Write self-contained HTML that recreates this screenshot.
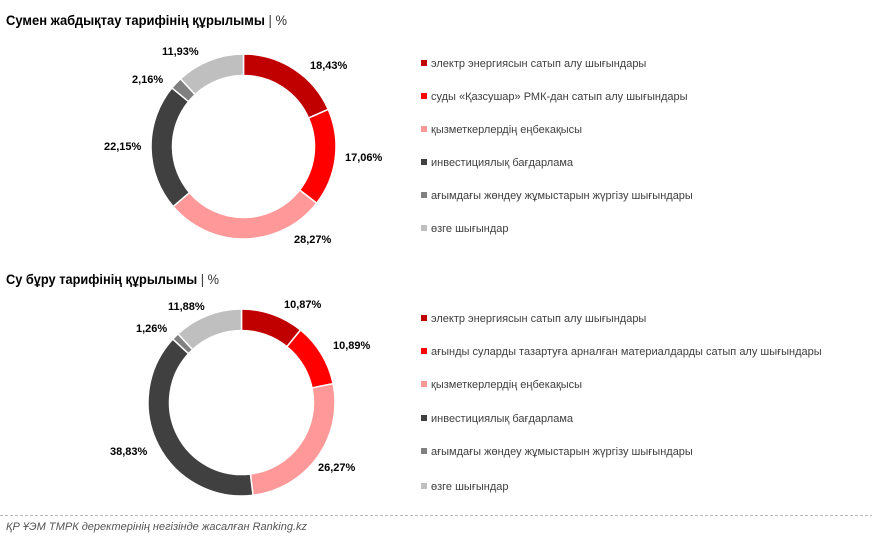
<!DOCTYPE html>
<html><head><meta charset="utf-8"><style>
body{margin:0;width:872px;height:541px;background:#fff;overflow:hidden;font-family:"Liberation Sans","DejaVu Sans",sans-serif;}
</style></head><body>
<svg width="872" height="541" xmlns="http://www.w3.org/2000/svg" style="position:absolute;left:0;top:0">
<g id="d1"></g><g id="d2"></g>
<g font-family="Liberation Sans, DejaVu Sans, sans-serif">
<text x="6" y="25" font-size="14" font-weight="bold" fill="#000" textLength="281" lengthAdjust="spacingAndGlyphs">Сумен жабдықтау тарифінің құрылымы <tspan font-weight="normal" fill="#333">| %</tspan></text>
<text x="6" y="284" font-size="14" font-weight="bold" fill="#000" textLength="213" lengthAdjust="spacingAndGlyphs">Су бұру тарифінің құрылымы <tspan font-weight="normal" fill="#333">| %</tspan></text>
<g font-size="11" font-weight="bold" fill="#000">
<text x="310" y="69">18,43%</text>
<text x="345" y="161">17,06%</text>
<text x="294" y="243">28,27%</text>
<text x="104" y="150">22,15%</text>
<text x="132" y="83">2,16%</text>
<text x="162" y="55">11,93%</text>
<text x="284" y="308">10,87%</text>
<text x="333" y="349">10,89%</text>
<text x="318" y="471">26,27%</text>
<text x="110" y="455">38,83%</text>
<text x="136" y="332">1,26%</text>
<text x="168" y="310">11,88%</text>
</g>
<g font-size="11" fill="#404040">
<rect x="421" y="60" width="6" height="6" fill="#C00000"/><text x="431" y="67">электр энергиясын сатып алу шығындары</text>
<rect x="421" y="93" width="6" height="6" fill="#FF0000"/><text x="431" y="100">суды «Қазсушар» РМК-дан сатып алу шығындары</text>
<rect x="421" y="126" width="6" height="6" fill="#FF9999"/><text x="431" y="133">қызметкерлердің еңбекақысы</text>
<rect x="421" y="159" width="6" height="6" fill="#404040"/><text x="431" y="166">инвестициялық бағдарлама</text>
<rect x="421" y="192" width="6" height="6" fill="#808080"/><text x="431" y="199">ағымдағы жөндеу жұмыстарын жүргізу шығындары</text>
<rect x="421" y="225" width="6" height="6" fill="#BFBFBF"/><text x="431" y="232">өзге шығындар</text>
<rect x="421" y="315" width="6" height="6" fill="#C00000"/><text x="431" y="322">электр энергиясын сатып алу шығындары</text>
<rect x="421" y="348" width="6" height="6" fill="#FF0000"/><text x="431" y="355">ағынды суларды тазартуға арналған материалдарды сатып алу шығындары</text>
<rect x="421" y="381" width="6" height="6" fill="#FF9999"/><text x="431" y="388">қызметкерлердің еңбекақысы</text>
<rect x="421" y="415" width="6" height="6" fill="#404040"/><text x="431" y="422">инвестициялық бағдарлама</text>
<rect x="421" y="448" width="6" height="6" fill="#808080"/><text x="431" y="455">ағымдағы жөндеу жұмыстарын жүргізу шығындары</text>
<rect x="421" y="483" width="6" height="6" fill="#BFBFBF"/><text x="431" y="490">өзге шығындар</text>
</g>
<line x1="0" y1="515.5" x2="872" y2="515.5" stroke="#bbb" stroke-dasharray="3,2"/>
<text x="6" y="530" font-size="11" font-style="italic" fill="#555">ҚР ҰЭМ ТМРК деректерінің негізінде жасалған Ranking.kz</text>
</g>
</svg>
<script>
function donut(id,cx,cy,ro,ri,vals){
 var cols=["#C00000","#FF0000","#FF9999","#404040","#808080","#BFBFBF"];
 var tot=vals.reduce(function(a,b){return a+b},0),a=0,s="";
 function p(r,t){return [cx+r*Math.sin(t),cy-r*Math.cos(t)];}
 vals.forEach(function(v,i){
  var a0=a/tot*2*Math.PI;a+=v;var a1=a/tot*2*Math.PI;var l=(a1-a0)>Math.PI?1:0;
  var A=p(ro,a0),B=p(ro,a1),C=p(ri,a1),D=p(ri,a0);
  s+='<path d="M'+A+' A'+ro+','+ro+' 0 '+l+' 1 '+B+' L'+C+' A'+ri+','+ri+' 0 '+l+' 0 '+D+'Z" fill="'+cols[i]+'" stroke="#fff" stroke-width="1.5"/>';
 });
 document.getElementById(id).innerHTML=s;
}
donut("d1",243.5,146.5,92.5,71,[18.43,17.06,28.27,22.15,2.16,11.93]);
donut("d2",241.5,402.5,93.5,72,[10.87,10.89,26.27,38.83,1.26,11.88]);
</script>
</body></html>
